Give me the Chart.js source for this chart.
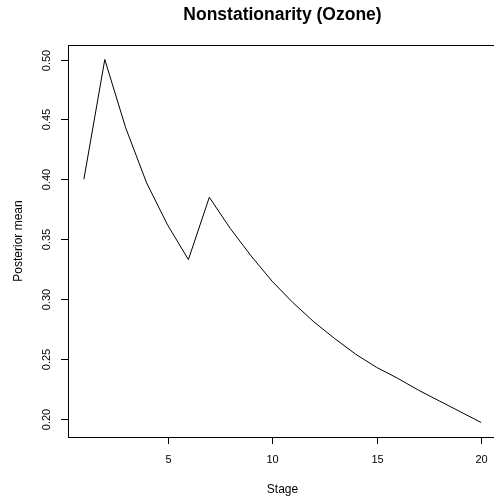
<!DOCTYPE html>
<html>
<head>
<meta charset="utf-8">
<script src="https://cdn.jsdelivr.net/npm/chart.js@4/dist/chart.umd.min.js"></script>
<style>
  html, body { margin: 0; padding: 0; background: #fff; overflow: hidden; }
  #wrap { position: absolute; left: 0; top: 0; width: 500px; height: 503px; }
</style>
</head>
<body>
<div id="wrap"><canvas id="ozoneChart" width="500" height="503"></canvas></div>
<script>
const stages = [1, 2, 3, 4, 5, 6, 7, 8, 9, 10, 11, 12, 13, 14, 15, 16, 17, 18, 19, 20];
const posteriorMean = [0.400, 0.500, 0.443, 0.397, 0.362, 0.333, 0.385, 0.359, 0.336, 0.315,
                       0.297, 0.281, 0.267, 0.254, 0.243, 0.234, 0.224, 0.215, 0.206, 0.197];
const xTicks = [5, 10, 15, 20];
const yTicks = [0.20, 0.25, 0.30, 0.35, 0.40, 0.45, 0.50];

const titleText = 'Nonstationarity (Ozone)';
const xLabel = 'Stage';
const yLabel = 'Posterior mean';

// R style axis range: data range padded by 4% each side
function pad(arr) {
  const lo = Math.min(...arr), hi = Math.max(...arr);
  const e = (hi - lo) * 0.04;
  return [lo - e, hi + e];
}
const [xMin, xMax] = pad(stages);
const [yMin, yMax] = pad(posteriorMean);

const font = '"Liberation Sans", Arial, Helvetica, sans-serif';

const rAxes = {
  id: 'rAxes',
  afterDraw(c) {
    const ctx = c.ctx;
    const a = c.chartArea;
    const xs = c.scales.x, ys = c.scales.y;
    ctx.save();
    ctx.strokeStyle = '#000';
    ctx.fillStyle = '#000';
    ctx.lineWidth = 1;

    // box
    ctx.strokeRect(Math.round(a.left) + 0.5, Math.round(a.top) + 0.5,
                   Math.round(a.right - a.left), Math.round(a.bottom - a.top));

    // x axis ticks
    ctx.font = '11px ' + font;
    ctx.textAlign = 'center';
    ctx.textBaseline = 'middle';
    xTicks.forEach(v => {
      const px = Math.round(xs.getPixelForValue(v)) + 0.5;
      ctx.beginPath();
      ctx.moveTo(px, a.bottom);
      ctx.lineTo(px, a.bottom + 7);
      ctx.stroke();
      ctx.fillText(String(v), px, a.bottom + 23);
    });

    // y axis ticks, labels rotated like R
    yTicks.forEach(v => {
      const py = Math.round(ys.getPixelForValue(v)) + 0.5;
      ctx.beginPath();
      ctx.moveTo(a.left, py);
      ctx.lineTo(a.left - 7, py);
      ctx.stroke();
      ctx.save();
      ctx.translate(a.left - 21, py);
      ctx.rotate(-Math.PI / 2);
      ctx.fillText(v.toFixed(2), 0, 0);
      ctx.restore();
    });

    // axis titles
    ctx.font = '12px ' + font;
    const cx = (a.left + a.right) / 2;
    ctx.fillText(xLabel, cx, 490);
    ctx.save();
    ctx.translate(19, (a.top + a.bottom) / 2);
    ctx.rotate(-Math.PI / 2);
    ctx.fillText(yLabel, 0, 0);
    ctx.restore();

    // main title
    ctx.font = 'bold 17.5px ' + font;
    ctx.fillText(titleText, cx, 15);
    ctx.restore();
  }
};

new Chart(document.getElementById('ozoneChart').getContext('2d'), {
  type: 'line',
  data: {
    datasets: [{
      label: yLabel,
      data: stages.map((s, i) => ({ x: s, y: posteriorMean[i] })),
      borderColor: '#000',
      borderWidth: 1,
      pointRadius: 0,
      tension: 0,
      fill: false
    }]
  },
  options: {
    responsive: false,
    animation: false,
    layout: { padding: { left: 68, top: 45, right: 3, bottom: 66 } },
    plugins: { legend: { display: false }, tooltip: { enabled: false }, title: { display: false } },
    scales: {
      x: { type: 'linear', min: xMin, max: xMax, display: false },
      y: { type: 'linear', min: yMin, max: yMax, display: false }
    }
  },
  plugins: [rAxes]
});
</script>
</body>
</html>
